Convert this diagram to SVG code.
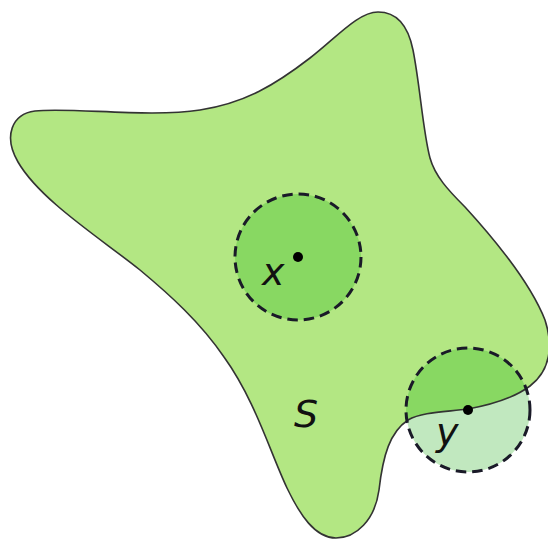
<svg xmlns="http://www.w3.org/2000/svg" width="548" height="539" viewBox="0 0 548 539">
<style>
.shape{fill:#b3e783}
.outline{fill:none;stroke:#333;stroke-width:1.6}
.ball{fill:none;stroke:#1a1a28;stroke-width:3;stroke-dasharray:10.5 6}
.dot{fill:#000}
.lbl{font-family:"DejaVu Sans",sans-serif;font-style:italic;font-size:38px;fill:#111}
</style>
<defs>
<path id="S" d="M 378,12 C 396,12 408,25 413,50 C 420,85 423,132 430,158 C 435,176 448,190 465,207 C 497,242 530,282 545,320 C 553,345 551,370 530,386 C 514,398 490,405 468,409 C 445,412 422,412 408,420 C 390,432 383,455 379,490 C 375,520 356,538 336,538 C 315,538 300,515 287,488 C 270,452 255,400 224,357 C 200,322 170,295 140,270 C 100,238 40,200 18,162 C 3,136 12,114 35,111 C 70,107 150,118 200,110 C 245,103 275,85 310,58 C 336,38 358,12 378,12 Z"/>
<clipPath id="clipS"><use href="#S"/></clipPath>
</defs>
<g id="set-S">
<use href="#S" class="shape"/>
</g>
<g id="ball-x">
<circle cx="298" cy="257" r="63" fill="#88d862"/>
</g>
<g id="ball-y">
<circle cx="468" cy="410" r="62" fill="#c1e8bf"/>
<circle cx="468" cy="410" r="62" fill="#88d862" clip-path="url(#clipS)"/>
</g>
<g id="set-S-outline">
<use href="#S" class="outline"/>
<text class="lbl" x="294" y="427">S</text>
</g>
<g id="node-x">
<circle class="ball" cx="298" cy="257" r="63"/>
<circle class="dot" cx="298" cy="257" r="5"/>
<text class="lbl" x="262" y="285">x</text>
</g>
<g id="node-y">
<circle class="ball" cx="468" cy="410" r="62"/>
<circle class="dot" cx="468" cy="410" r="5"/>
<text class="lbl" x="436" y="445">y</text>
</g>
<g id="connectors"></g>
</svg>
